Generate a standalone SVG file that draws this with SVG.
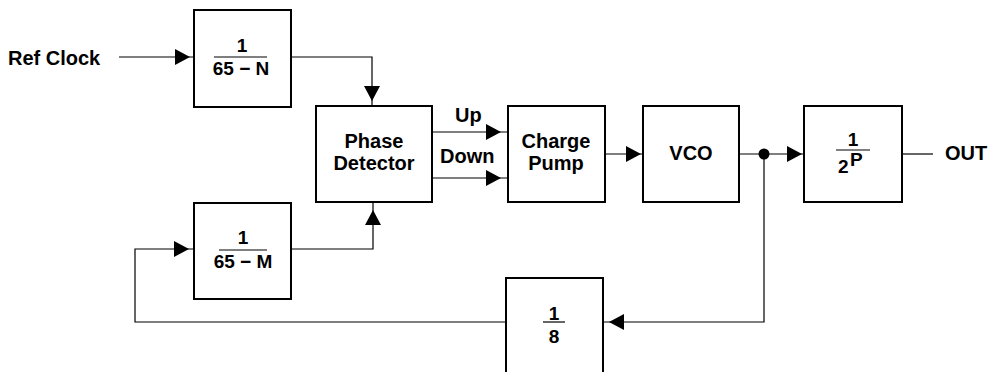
<svg xmlns="http://www.w3.org/2000/svg" xmlns:xlink="http://www.w3.org/1999/xlink" width="993" height="372" viewBox="0 0 993 372">
<style>
.box{fill:#fff;stroke:#000;stroke-width:2}
.wire{fill:none;stroke:#000;stroke-width:1.2}
.bar{stroke:#000;stroke-width:1.2}
text{font-family:"Liberation Sans",Arial,sans-serif;font-weight:bold;font-size:20px;fill:#000}
.f{font-size:19px}
.c{text-anchor:middle}
</style>
<defs>
<path id="ah" d="M0,0 L-15,-8 L-15,8 Z" fill="#000"/>
</defs>
<rect width="993" height="372" fill="#fff"/>
<g id="connectors">
<path class="wire" d="M119,57 H194"/>
<use xlink:href="#ah" href="#ah" transform="translate(190,57)"/>
<path class="wire" d="M291,57 H372 V106"/>
<use xlink:href="#ah" href="#ah" transform="translate(372,101) rotate(90)"/>
<path class="wire" d="M291,249 H373 V202"/>
<use xlink:href="#ah" href="#ah" transform="translate(373,210) rotate(-90)"/>
<path class="wire" d="M432,132 H508"/>
<use xlink:href="#ah" href="#ah" transform="translate(501,132)"/>
<path class="wire" d="M432,178 H508"/>
<use xlink:href="#ah" href="#ah" transform="translate(501,178)"/>
<path class="wire" d="M605,154 H643"/>
<use xlink:href="#ah" href="#ah" transform="translate(641,154)"/>
<path class="wire" d="M739,154 H804"/>
<use xlink:href="#ah" href="#ah" transform="translate(802,154)"/>
<circle cx="764" cy="154" r="5.5" fill="#000"/>
<path class="wire" d="M902,154 H933"/>
<path class="wire" d="M764,154 V322 H603"/>
<use xlink:href="#ah" href="#ah" transform="translate(609,322) rotate(180)"/>
<path class="wire" d="M506,322 H135 V249 H194"/>
<use xlink:href="#ah" href="#ah" transform="translate(189,249)"/>
</g>
<g id="refclock">
<text x="8" y="65">Ref Clock</text>
</g>
<g id="divN">
<rect class="box" x="194" y="10" width="97" height="97"/>
<text class="c f" x="242" y="52">1</text>
<line class="bar" x1="214" y1="57" x2="267" y2="57"/>
<text class="c f" x="241" y="75">65 − N</text>
</g>
<g id="divM">
<rect class="box" x="194" y="203" width="97" height="96"/>
<text class="c f" x="243" y="244">1</text>
<line class="bar" x1="219" y1="250" x2="267" y2="250"/>
<text class="c f" x="243" y="268">65 − M</text>
</g>
<g id="phasedetector">
<rect class="box" x="316" y="106" width="116" height="96"/>
<text class="c" x="374" y="148">Phase</text>
<text class="c" x="374" y="170">Detector</text>
</g>
<g id="labels">
<text x="455" y="122">Up</text>
<text x="440" y="163">Down</text>
</g>
<g id="chargepump">
<rect class="box" x="508" y="106" width="97" height="96"/>
<text class="c" x="556" y="148">Charge</text>
<text class="c" x="556" y="170">Pump</text>
</g>
<g id="vco">
<rect class="box" x="643" y="106" width="96" height="96"/>
<text class="c" x="691" y="160">VCO</text>
</g>
<g id="div2P">
<rect class="box" x="804" y="106" width="98" height="96"/>
<text class="c f" x="853" y="146">1</text>
<line class="bar" x1="836" y1="150" x2="870" y2="150"/>
<text class="f" x="838" y="173">2</text>
<text class="f" x="850" y="166">P</text>
</g>
<g id="out">
<text x="945" y="160">OUT</text>
</g>
<g id="div8">
<rect class="box" x="506" y="278" width="97" height="100"/>
<text class="c f" x="554" y="320">1</text>
<line class="bar" x1="543" y1="322" x2="565" y2="322"/>
<text class="c f" x="554" y="343">8</text>
</g>
</svg>
